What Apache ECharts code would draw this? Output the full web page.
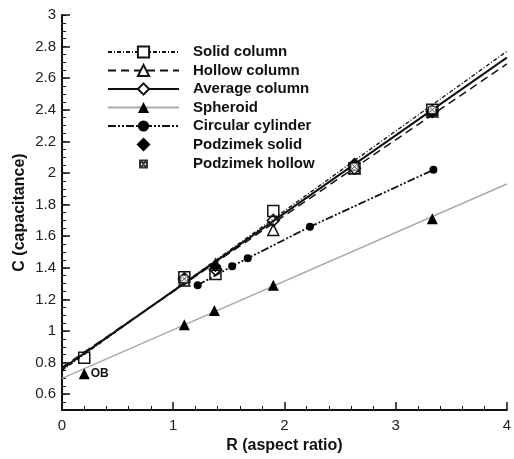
<!DOCTYPE html>
<html>
<head>
<meta charset="utf-8">
<script src="https://cdn.jsdelivr.net/npm/echarts@6/dist/echarts.min.js"></script>
<style>html,body{margin:0;padding:0;background:#fff;}#c{width:514px;height:459px;}</style>
</head>
<body>
<div id="c"></div>
<script>
// Fit lines (R range endpoints)
const fitR = [0, 4];
const solidColumnFit = [0.75, 2.77];
const hollowColumnFit = [0.77, 2.69];
const averageColumnFit = [0.76, 2.73];
const spheroidFit = [0.70, 1.93];

// Markers
const solidColumnR = [0.2, 1.1, 1.38, 1.9, 2.63, 3.33];
const solidColumnC = [0.83, 1.34, 1.36, 1.76, 2.03, 2.40];
const hollowColumnR = [1.1, 1.38, 1.9, 2.63, 3.33];
const hollowColumnC = [1.32, 1.42, 1.64, 2.03, 2.39];
const averageColumnR = [1.1, 1.38, 1.9, 2.63, 3.33];
const averageColumnC = [1.33, 1.39, 1.70, 2.03, 2.39];
const spheroidR = [0.2, 1.1, 1.37, 1.9, 3.33];
const spheroidC = [0.73, 1.04, 1.13, 1.29, 1.71];
const cylinderR = [1.22, 1.53, 1.67, 2.23, 3.34];
const cylinderC = [1.29, 1.41, 1.46, 1.66, 2.02];
const podzSolidR = [1.38, 2.63, 3.33];
const podzSolidC = [1.41, 2.06, 2.39];
const podzHollowR = [1.1, 2.63, 3.33];
const podzHollowC = [1.33, 2.04, 2.40];

const yLabels = [0.6, 0.8, 1, 1.2, 1.4, 1.6, 1.8, 2, 2.2, 2.4, 2.6, 2.8, 3];
const xLabels = [0, 1, 2, 3, 4];

const zip = (a, b) => a.map((v, i) => [v, b[i]]);
const FONT = 'Liberation Sans, Arial, sans-serif';

const chart = echarts.init(document.getElementById('c'), null, {renderer: 'canvas'});
const boxX = 'path://M0,0H10V10H0Z M1.5,1.5L8.5,8.5 M8.5,1.5L1.5,8.5';
const diamondPath = 'path://M5,0L10,5L5,10L0,5Z';

const spheroidData = zip(spheroidR, spheroidC).map((p, i) => i === 0 ? {
  value: p,
  label: {show: true, formatter: 'OB', position: 'right', distance: 1, fontSize: 12, fontWeight: 'bold', color: '#111', fontFamily: FONT}
} : p);

const legendText = {fontSize: 15, fontWeight: 'bold', color: '#111', fontFamily: FONT, lineHeight: 18, padding: [0, 0, 0, 9]};

chart.setOption({
  animation: false,
  textStyle: {fontFamily: FONT},
  grid: {left: 62, right: 4, top: 15, bottom: 41, containLabel: false},
  legend: [{
    data: ['Solid column', 'Hollow column', 'Average column', 'Spheroid', 'Circular cylinder', 'Podzimek solid'],
    orient: 'vertical', left: 102, top: 38,
    itemWidth: 71, itemHeight: 14, itemGap: 0.5,
    selectedMode: false, symbolKeepAspect: true,
    textStyle: legendText
  }, {
    data: ['Podzimek hollow'],
    orient: 'vertical', left: 134, top: 150,
    itemWidth: 71, itemHeight: 7, itemGap: 0.5,
    selectedMode: false, symbolKeepAspect: true,
    textStyle: legendText
  }],
  xAxis: {
    type: 'value', min: 0, max: 4, interval: 1,
    name: 'R (aspect ratio)', nameLocation: 'middle', nameGap: 28,
    nameTextStyle: {fontSize: 16, fontWeight: 'bold', color: '#111', fontFamily: FONT},
    axisLine: {show: true, lineStyle: {color: '#111', width: 2}},
    axisTick: {show: true, inside: true, length: 8, lineStyle: {color: '#111', width: 1.5}},
    minorTick: {show: true, splitNumber: 5, length: 4, lineStyle: {color: '#111', width: 1}},
    axisLabel: {fontSize: 15, color: '#222', margin: 8, customValues: xLabels},
    splitLine: {show: false}
  },
  yAxis: [{
    type: 'value', min: 0.5, max: 3, position: 'left',
    name: 'C (capacitance)', nameLocation: 'middle', nameGap: 34, nameRotate: 90, nameMoveOverlap: false,
    nameTextStyle: {fontSize: 16, fontWeight: 'bold', color: '#111', fontFamily: FONT},
    axisLine: {show: true, lineStyle: {color: '#111', width: 2}},
    axisTick: {show: true, inside: true, length: 8, customValues: yLabels, lineStyle: {color: '#111', width: 1.5}},
    axisLabel: {fontSize: 15, color: '#222', margin: 6, customValues: yLabels},
    splitLine: {show: false}
  }, {
    type: 'value', min: 0.5, max: 3, interval: 0.05, position: 'left', offset: 0,
    axisLine: {show: false},
    axisTick: {show: true, inside: true, length: 4, lineStyle: {color: '#111', width: 1}},
    axisLabel: {show: false},
    splitLine: {show: false}
  }],
  series: [
    {name: 'Solid column', type: 'line', data: zip(fitR, solidColumnFit), showSymbol: false, symbol: 'rect', symbolSize: 11,
     itemStyle: {color: '#fff', borderColor: '#111', borderWidth: 1.5},
     lineStyle: {color: '#111', width: 1.3, type: [4, 2, 1, 2]}, z: 2},
    {name: 'Hollow column', type: 'line', data: zip(fitR, hollowColumnFit), showSymbol: false, symbol: 'triangle', symbolSize: 11,
     itemStyle: {color: '#fff', borderColor: '#111', borderWidth: 1.5},
     lineStyle: {color: '#111', width: 1.5, type: [8, 5]}, z: 2},
    {name: 'Average column', type: 'line', data: zip(fitR, averageColumnFit), showSymbol: false, symbol: 'diamond', symbolSize: 12,
     itemStyle: {color: '#fff', borderColor: '#111', borderWidth: 1.5},
     lineStyle: {color: '#111', width: 2}, z: 2},
    {name: 'Spheroid', type: 'line', data: zip(fitR, spheroidFit), showSymbol: false, symbol: 'triangle', symbolSize: 11,
     itemStyle: {color: '#000'},
     lineStyle: {color: '#aaa', width: 1.5}, z: 2},
    {name: 'Circular cylinder', type: 'line', data: zip(cylinderR, cylinderC), showSymbol: true, symbol: 'circle', symbolSize: 8,
     itemStyle: {color: '#000', opacity: 1},
     lineStyle: {color: '#111', width: 1.8, type: [8, 2, 2, 2, 2, 2]}, z: 3},
    {name: 'Solid column', type: 'scatter', data: zip(solidColumnR, solidColumnC), symbol: 'rect', symbolSize: 11,
     itemStyle: {color: 'rgba(255,255,255,0)', borderColor: '#111', borderWidth: 1.5, opacity: 1}, z: 4},
    {name: 'Hollow column', type: 'scatter', data: zip(hollowColumnR, hollowColumnC), symbol: 'triangle', symbolSize: 11,
     itemStyle: {color: 'rgba(255,255,255,0)', borderColor: '#111', borderWidth: 1.5, opacity: 1}, z: 4},
    {name: 'Average column', type: 'scatter', data: zip(averageColumnR, averageColumnC), symbol: 'diamond', symbolSize: 12,
     itemStyle: {color: 'rgba(255,255,255,0)', borderColor: '#111', borderWidth: 1.5, opacity: 1}, z: 4},
    {name: 'Spheroid', type: 'scatter', data: spheroidData, symbol: 'triangle', symbolSize: 11,
     itemStyle: {color: '#000', opacity: 1}, z: 4},
    {name: 'Podzimek solid', type: 'scatter', data: zip(podzSolidR, podzSolidC), symbol: diamondPath, symbolSize: 12,
     symbolKeepAspect: true,
     itemStyle: {color: '#000', opacity: 1}, z: 5},
    {name: 'Podzimek hollow', type: 'scatter', data: zip(podzHollowR, podzHollowC), symbol: boxX, symbolSize: 7,
     symbolKeepAspect: true,
     itemStyle: {color: '#fff', borderColor: '#333', borderWidth: 0.9, opacity: 1}, z: 6}
  ]
});
</script>
</body>
</html>
